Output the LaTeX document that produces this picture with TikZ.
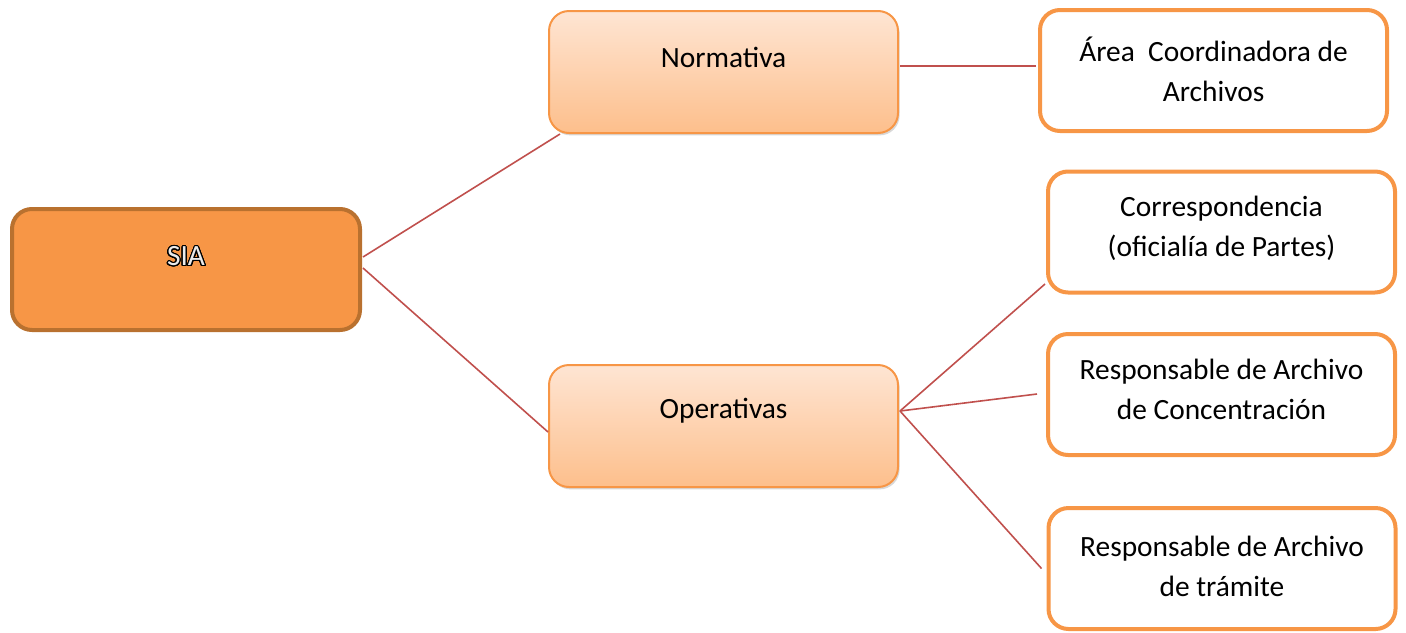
\documentclass[tikz,border=0pt]{standalone}
\usepackage{fontspec}
\setmainfont{Carlito}
\usepackage{contour}
\contourlength{0.55pt}
\contournumber{24}
\usetikzlibrary{calc,shadows}
\definecolor{orangeA}{HTML}{F79646}
\definecolor{orangeD}{HTML}{B9712F}
\definecolor{gradTop}{HTML}{FEE5D3}
\definecolor{gradBot}{HTML}{FDBF8C}
\definecolor{conn}{HTML}{C0504D}
\tikzset{
  txt/.style={font=\fontsize{14.7}{20}\selectfont, align=center, inner sep=0pt},
  rootbox/.style={draw=orangeD, line width=2pt, fill=orangeA, rounded corners=10pt,
    minimum width=174pt, minimum height=60.5pt, inner sep=0pt},
  midbox/.style={draw=orangeA, line width=1pt, top color=gradTop, bottom color=gradBot,
    rounded corners=10pt, minimum width=174.5pt, minimum height=61pt, inner sep=0pt,
    drop shadow={shadow xshift=0.8pt, shadow yshift=-1.2pt, fill=black!22, opacity=0.7}},
  leafbox/.style={draw=orangeA, line width=2pt, fill=white, rounded corners=10pt,
    minimum width=173.5pt, minimum height=60.5pt, inner sep=0pt},
  link/.style={draw=conn, line width=0.8pt}
}
\begin{document}
\begin{tikzpicture}[x=0.5pt,y=-0.5pt]
\useasboundingbox (0,0) rectangle (1406,632);
% boxes
\node[rootbox] (sia) at (186,269.5) {};
\node[midbox] (norm) at (723.5,72) {};
\node[midbox] (oper) at (723.5,426) {};
\node[leafbox] (area) at (1213.5,70.5) {};
\node[leafbox] (corr) at (1221.5,232) {};
\node[leafbox] (conc) at (1221.5,394.5) {};
\node[leafbox] (tram) at (1222,568.5) {};
% texts
\node[txt] (siat) at ($(sia.center)+(0,-12.5)$) {\contour{black}{\textcolor{white!92!black}{SIA}}};
\node[txt] (normt) at ($(norm.center)+(0,-15)$) {Normativa};
\node[txt] (opert) at ($(oper.center)+(0,-15)$) {Operativas};
\node[txt] (areat) at ($(area.center)+(0,-1)$) {Área\ \ Coordinadora de\\Archivos};
\node[txt] (corrt) at ($(corr.center)+(0,-4)$) {Correspondencia\\(oficialía de Partes)};
\node[txt] (conct) at ($(conc.center)+(0,-5)$) {Responsable de Archivo\\de Concentración};
\node[txt] (tramt) at ($(tram.center)+(0,-2)$) {Responsable de Archivo\\de trámite};
% connectors
\draw[link] ($(sia.east)+(1,-12.5)$) -- ($(norm.south west)+(12,0)$);
\draw[link] ($(sia.east)+(1,-1.5)$) -- ($(oper.west)+(0,6)$);
\draw[link] ($(norm.east)+(1,-6)$) -- ($(area.west)+(-2,-4.5)$);
\draw[link] ($(oper.east)+(1,-15)$) -- ($(corr.west)+(-1,52)$);
\draw[link] ($(oper.east)+(1,-15)$) -- ($(conc.west)+(-9,-0.5)$);
\draw[link] ($(oper.east)+(1,-15)$) -- ($(tram.west)+(-5,0)$);
\end{tikzpicture}
\end{document}
